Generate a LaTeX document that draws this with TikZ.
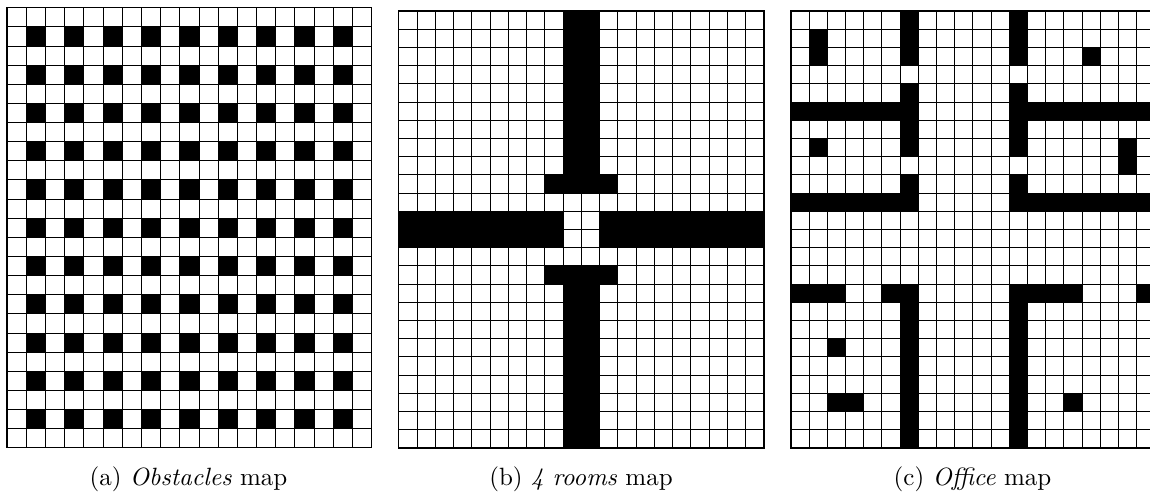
\documentclass[tikz,border=0pt]{standalone}
\usepackage{tikz}
\tikzset{
    mapgrid/.style={line width=0.3pt},
    mapframe/.style={line width=0.55pt},
    wall/.style={fill=black},
    mapcaption/.style={anchor=base, inner sep=0pt}
}

\begin{document}
\begin{tikzpicture}[x=0.4pt, y=-0.4pt]
    \path[use as bounding box, clip] (0,0) rectangle (1150,494);

    \begin{scope}[shift={(7,7.6)}, x=7.675pt, y=-7.655pt]
        \foreach \col in {1,...,18} \draw[mapgrid] (\col,0) -- (\col,23);
        \foreach \row in {1,...,22} \draw[mapgrid] (0,\row) -- (19,\row);
        \foreach \col in {1,3,...,17} {
            \foreach \row in {1,3,...,21} {
                \fill[wall] (\col,\row) rectangle ++(1,1);
            }
        }
        \draw[mapframe] (0,0) rectangle (19,23);
    \end{scope}

    \begin{scope}[shift={(398.8,11)}, x=7.3pt, y=-7.28pt]
        \foreach \col in {1,...,19} \draw[mapgrid] (\col,0) -- (\col,24);
        \foreach \row in {1,...,23} \draw[mapgrid] (0,\row) -- (20,\row);
        \fill[wall] (9,0) rectangle (11,10);
        \fill[wall] (8,9) rectangle (12,10);
        \fill[wall] (0,11) rectangle (9,13);
        \fill[wall] (11,11) rectangle (20,13);
        \fill[wall] (8,14) rectangle (12,15);
        \fill[wall] (9,15) rectangle (11,24);
        \draw[mapframe] (0,0) rectangle (20,24);
    \end{scope}

    \begin{scope}[shift={(790.8,11)}, x=7.28pt, y=-7.28pt]
        \foreach \col in {1,...,19} \draw[mapgrid] (\col,0) -- (\col,24);
        \foreach \row in {1,...,23} \draw[mapgrid] (0,\row) -- (20,\row);
        \foreach \col in {6,12} {
            \fill[wall] (\col,0) rectangle ++(1,3);
            \fill[wall] (\col,4) rectangle ++(1,4);
            \fill[wall] (\col,9) rectangle ++(1,2);
            \fill[wall] (\col,15) rectangle ++(1,9);
        }
        \foreach \row in {5,10} {
            \fill[wall] (0,\row) rectangle ++(7,1);
            \fill[wall] (12,\row) rectangle ++(8,1);
        }
        \fill[wall] (0,15) rectangle (3,16);
        \fill[wall] (5,15) rectangle (7,16);
        \fill[wall] (12,15) rectangle (16,16);
        \fill[wall] (19,15) rectangle (20,16);
        \fill[wall] (1,1) rectangle (2,3);
        \fill[wall] (16,2) rectangle (17,3);
        \fill[wall] (1,7) rectangle (2,8);
        \fill[wall] (18,7) rectangle (19,9);
        \fill[wall] (2,18) rectangle (3,19);
        \fill[wall] (2,21) rectangle (4,22);
        \fill[wall] (15,21) rectangle (16,22);
        \draw[mapframe] (0,0) rectangle (20,24);
    \end{scope}

    \node[mapcaption] (captionA) at (188.5,485) {(a)~\textit{Obstacles} map};
    \node[mapcaption] (captionB) at (581,485) {(b)~\textit{4 rooms} map};
    \node[mapcaption] (captionC) at (972.5,485) {(c)~\textit{Office} map};
\end{tikzpicture}
\end{document}
